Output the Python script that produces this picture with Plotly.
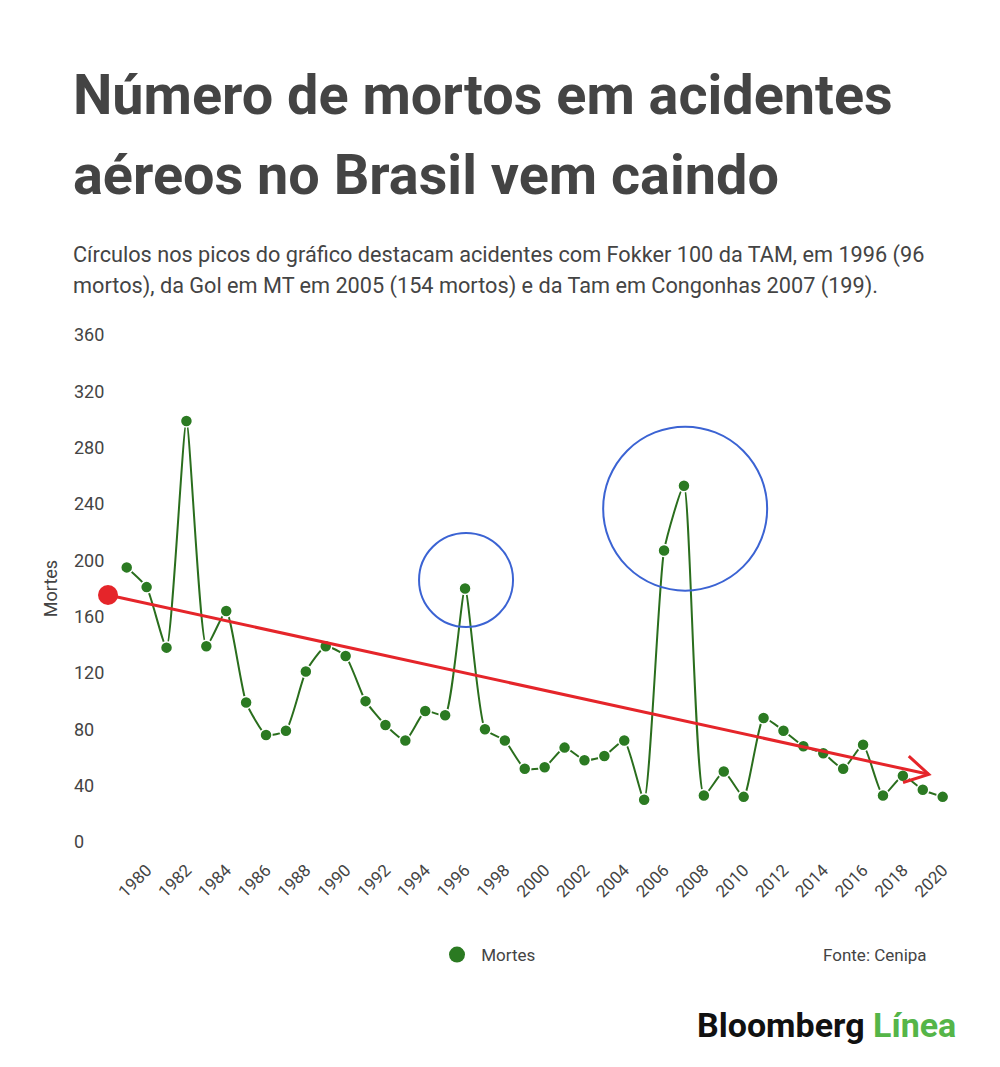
import numpy as np
import plotly.graph_objects as go

YEARS = list(range(1979, 2021))
MORTES = [195, 181, 138, 299, 139, 164, 99, 76, 79, 121,
          139, 132, 100, 83, 72, 93, 90, 180, 80, 72,
          52, 53, 67, 58, 61, 72, 30, 207, 253, 33,
          50, 32, 88, 79, 68, 63, 52, 69, 33, 47,
          37, 32]
X_TICKS = list(range(1980, 2021, 2))
Y_TICKS = [0, 40, 80, 120, 160, 200, 240, 280, 320, 360]

# annotation overlays (data units)
TREND_START = (1978.06, 175.4)
TREND_END = (2019.3, 48)
HIGHLIGHTS = [(1996.05, 186, 47), (2007.06, 236.7, 82)]  # x, y, radius px

TITLE_1 = "Número de mortos em acidentes"
TITLE_2 = "aéreos no Brasil vem caindo"
SUB_1 = "Círculos nos picos do gráfico destacam acidentes com Fokker 100 da TAM, em 1996 (96"
SUB_2 = "mortos), da Gol em MT em 2005 (154 mortos) e da Tam em Congonhas 2007 (199)."

W, H = 1000, 1067
PAGE = 8  # body margin of the html page
ML, MR, MT, MB = 63, 48, 313, 219
X_RANGE = [1976.2, 2020.87]
Y_RANGE = [-10, 370]
PW, PH = W - ML - MR, H - MT - MB
PX_X = PW / (X_RANGE[1] - X_RANGE[0])
PX_Y = PH / (Y_RANGE[1] - Y_RANGE[0])


def px(x):
    return (x - PAGE - ML) / PW


def py(y):
    return (H - MB - (y - PAGE)) / PH


GREEN = "#2b7a22"
RED = "#e5252a"
BLUE = "#3b63d3"
TEXT = "#444444"
FONT = "Roboto"

fig = go.Figure()

fig.add_trace(go.Scatter(
    x=YEARS, y=MORTES, mode="lines+markers", name="Mortes", showlegend=False,
    line=dict(color="#2a6e1d", width=2, shape="spline", smoothing=0.5),
    marker=dict(color=GREEN, size=12, line=dict(color="white", width=1.5)),
))

# trend arrow
fig.add_trace(go.Scatter(
    x=[TREND_START[0], TREND_END[0]], y=[TREND_START[1], TREND_END[1]],
    mode="lines", line=dict(color=RED, width=3), showlegend=False, hoverinfo="skip",
))
dx = (TREND_END[0] - TREND_START[0]) * PX_X
dy = (TREND_END[1] - TREND_START[1]) * PX_Y
ang = np.arctan2(dy, dx)
head_x, head_y = [], []
for a in (ang + np.radians(150), None, ang - np.radians(150)):
    if a is None:
        head_x.append(TREND_END[0])
        head_y.append(TREND_END[1])
        continue
    head_x.append(TREND_END[0] + 27 * np.cos(a) / PX_X)
    head_y.append(TREND_END[1] + 27 * np.sin(a) / PX_Y)
fig.add_trace(go.Scatter(
    x=head_x, y=head_y, mode="lines", line=dict(color=RED, width=3),
    showlegend=False, hoverinfo="skip",
))
fig.add_trace(go.Scatter(
    x=[TREND_START[0]], y=[TREND_START[1]], mode="markers",
    marker=dict(color=RED, size=20), showlegend=False, hoverinfo="skip",
))

# legend entry
fig.add_trace(go.Scatter(
    x=[None], y=[None], mode="markers", name="\u00a0Mortes",
    marker=dict(color=GREEN, size=20),
))

for cx, cy, r in HIGHLIGHTS:
    fig.add_shape(type="circle", xref="x", yref="y",
                  x0=cx - r / PX_X, x1=cx + r / PX_X,
                  y0=cy - r / PX_Y, y1=cy + r / PX_Y,
                  line=dict(color=BLUE, width=2))


def note(text, x, y, size, anchor="left", color=TEXT):
    fig.add_annotation(text=text, xref="paper", yref="paper", x=px(x), y=py(y),
                       xanchor=anchor, yanchor="middle", showarrow=False,
                       font=dict(family=FONT, size=size, color=color))


note("<b>" + TITLE_1 + "</b>", 71, 95, 55.8)
note("<b>" + TITLE_2 + "</b>", 71, 175, 55.8)
note(SUB_1, 71, 255, 21.7)
note(SUB_2, 71, 286, 21.7)
note("Fonte: Cenipa", 929, 955, 17, anchor="right")
note("<b>Bloomberg</b> <b><span style='color:#55b548'>Línea</span></b>",
     958, 1025, 34, anchor="right", color="#111111")

fig.update_layout(
    width=W, height=H,
    margin=dict(l=ML, r=MR, t=MT, b=MB),
    paper_bgcolor="white", plot_bgcolor="white",
    font=dict(family=FONT, color=TEXT, size=17),
    xaxis=dict(range=X_RANGE, tickvals=X_TICKS, tickangle=-45,
               showgrid=False, zeroline=False, showline=False,
               tickfont=dict(size=17, color=TEXT)),
    yaxis=dict(range=Y_RANGE, tickvals=Y_TICKS, ticklabelposition="inside",
               showgrid=False, zeroline=False, showline=False,
               tickfont=dict(size=18, color=TEXT),
               title=dict(text="Mortes", standoff=11, font=dict(size=18, color=TEXT))),
    legend=dict(orientation="h", x=px(437), y=py(955), xanchor="left", yanchor="middle",
                font=dict(size=17, color=TEXT)),
)

fig.write_html("out.html")
